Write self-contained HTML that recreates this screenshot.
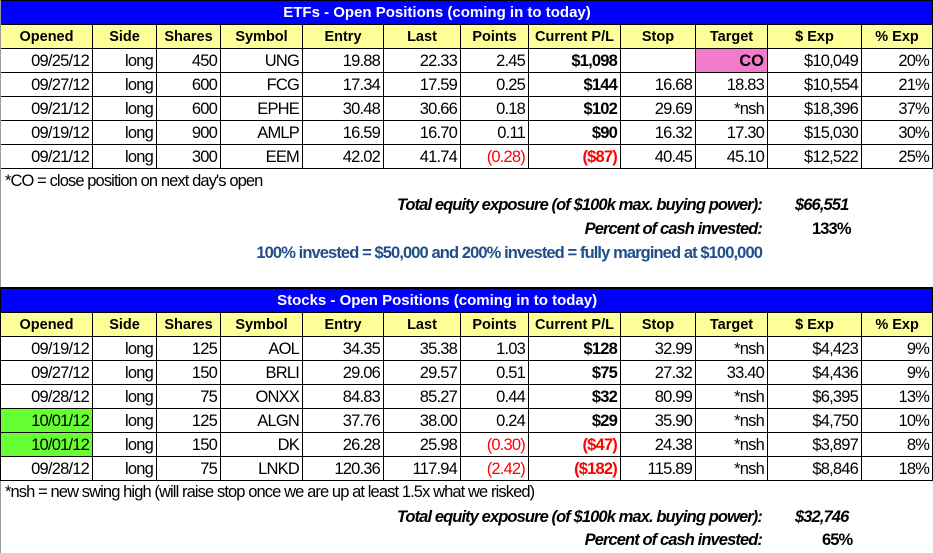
<!DOCTYPE html>
<html><head><style>
body{margin:0;background:#fff;width:933px;height:553px;overflow:hidden;position:relative;font-family:"Liberation Sans",Arial,sans-serif;}
table{position:absolute;left:0;border-collapse:collapse;table-layout:fixed;width:932px;}
td{border:1px solid #000;height:23px;padding:0 3px;font-size:16.5px;text-align:right;white-space:nowrap;overflow:hidden;line-height:22px;letter-spacing:-0.8px}
tr.t td{background:#0000FF;color:#fff;font-weight:bold;text-align:center;font-size:15px;padding-right:62px;letter-spacing:0}
tr.h td{background:#FFFF99;font-weight:bold;text-align:center;letter-spacing:0;font-size:14.5px}
.b{font-weight:bold}.r{color:#f00}.rb{color:#f00;font-weight:bold}
.pk{background:#F27BCB;font-weight:bold;letter-spacing:0}.g{background:#66FF33}
.txt{position:absolute;font-size:16.5px;white-space:nowrap;line-height:18px;letter-spacing:-0.9px}
.bi{font-weight:bold;font-style:italic}
</style></head><body>
<table style="top:0">
<colgroup><col style="width:92px"><col style="width:64px"><col style="width:64px"><col style="width:82px"><col style="width:81px"><col style="width:77px"><col style="width:68px"><col style="width:92px"><col style="width:75px"><col style="width:72px"><col style="width:94px"><col style="width:71px"></colgroup>
<tr class="t"><td colspan="12">ETFs - Open Positions (coming in to today)</td></tr>
<tr class="h"><td>Opened</td><td>Side</td><td>Shares</td><td>Symbol</td><td>Entry</td><td>Last</td><td>Points</td><td>Current P/L</td><td>Stop</td><td>Target</td><td>$ Exp</td><td>% Exp</td></tr>
<tr><td>09/25/12</td><td>long</td><td>450</td><td>UNG</td><td>19.88</td><td>22.33</td><td>2.45</td><td class="b">$1,098</td><td></td><td class="pk">CO</td><td>$10,049</td><td>20%</td></tr>
<tr><td>09/27/12</td><td>long</td><td>600</td><td>FCG</td><td>17.34</td><td>17.59</td><td>0.25</td><td class="b">$144</td><td>16.68</td><td>18.83</td><td>$10,554</td><td>21%</td></tr>
<tr><td>09/21/12</td><td>long</td><td>600</td><td>EPHE</td><td>30.48</td><td>30.66</td><td>0.18</td><td class="b">$102</td><td>29.69</td><td>*nsh</td><td>$18,396</td><td>37%</td></tr>
<tr><td>09/19/12</td><td>long</td><td>900</td><td>AMLP</td><td>16.59</td><td>16.70</td><td>0.11</td><td class="b">$90</td><td>16.32</td><td>17.30</td><td>$15,030</td><td>30%</td></tr>
<tr><td>09/21/12</td><td>long</td><td>300</td><td>EEM</td><td>42.02</td><td>41.74</td><td class="r">(0.28)</td><td class="rb">($87)</td><td>40.45</td><td>45.10</td><td>$12,522</td><td>25%</td></tr>
</table>
<div class="txt" style="left:5px;top:172px">*CO = close position on next day's open</div>
<div class="txt bi" style="right:171px;top:196px">Total equity exposure (of $100k max. buying power):</div>
<div class="txt bi" style="left:795px;top:196px">$66,551</div>
<div class="txt bi" style="right:171px;top:220px">Percent of cash invested:</div>
<div class="txt b" style="left:812px;top:220px">133%</div>
<div class="txt b" style="right:171px;top:244px;color:#1F4E8C">100% invested = $50,000 and 200% invested = fully margined at $100,000</div>
<div style="position:absolute;left:0;top:0;width:1px;height:553px;background:#999"></div>
<table style="top:287px;border-top:2px solid #000">
<colgroup><col style="width:92px"><col style="width:64px"><col style="width:64px"><col style="width:82px"><col style="width:81px"><col style="width:77px"><col style="width:68px"><col style="width:92px"><col style="width:75px"><col style="width:72px"><col style="width:94px"><col style="width:71px"></colgroup>
<tr class="t"><td colspan="12">Stocks - Open Positions (coming in to today)</td></tr>
<tr class="h"><td>Opened</td><td>Side</td><td>Shares</td><td>Symbol</td><td>Entry</td><td>Last</td><td>Points</td><td>Current P/L</td><td>Stop</td><td>Target</td><td>$ Exp</td><td>% Exp</td></tr>
<tr><td>09/19/12</td><td>long</td><td>125</td><td>AOL</td><td>34.35</td><td>35.38</td><td>1.03</td><td class="b">$128</td><td>32.99</td><td>*nsh</td><td>$4,423</td><td>9%</td></tr>
<tr><td>09/27/12</td><td>long</td><td>150</td><td>BRLI</td><td>29.06</td><td>29.57</td><td>0.51</td><td class="b">$75</td><td>27.32</td><td>33.40</td><td>$4,436</td><td>9%</td></tr>
<tr><td>09/28/12</td><td>long</td><td>75</td><td>ONXX</td><td>84.83</td><td>85.27</td><td>0.44</td><td class="b">$32</td><td>80.99</td><td>*nsh</td><td>$6,395</td><td>13%</td></tr>
<tr><td class="g">10/01/12</td><td>long</td><td>125</td><td>ALGN</td><td>37.76</td><td>38.00</td><td>0.24</td><td class="b">$29</td><td>35.90</td><td>*nsh</td><td>$4,750</td><td>10%</td></tr>
<tr><td class="g">10/01/12</td><td>long</td><td>150</td><td>DK</td><td>26.28</td><td>25.98</td><td class="r">(0.30)</td><td class="rb">($47)</td><td>24.38</td><td>*nsh</td><td>$3,897</td><td>8%</td></tr>
<tr><td>09/28/12</td><td>long</td><td>75</td><td>LNKD</td><td>120.36</td><td>117.94</td><td class="r">(2.42)</td><td class="rb">($182)</td><td>115.89</td><td>*nsh</td><td>$8,846</td><td>18%</td></tr>
</table>
<div class="txt" style="left:5px;top:483px">*nsh = new swing high (will raise stop once we are up at least 1.5x what we risked)</div>
<div class="txt bi" style="right:171px;top:508px">Total equity exposure (of $100k max. buying power):</div>
<div class="txt bi" style="left:795px;top:508px">$32,746</div>
<div class="txt bi" style="right:171px;top:531px">Percent of cash invested:</div>
<div class="txt b" style="left:822px;top:531px">65%</div>
</body></html>
